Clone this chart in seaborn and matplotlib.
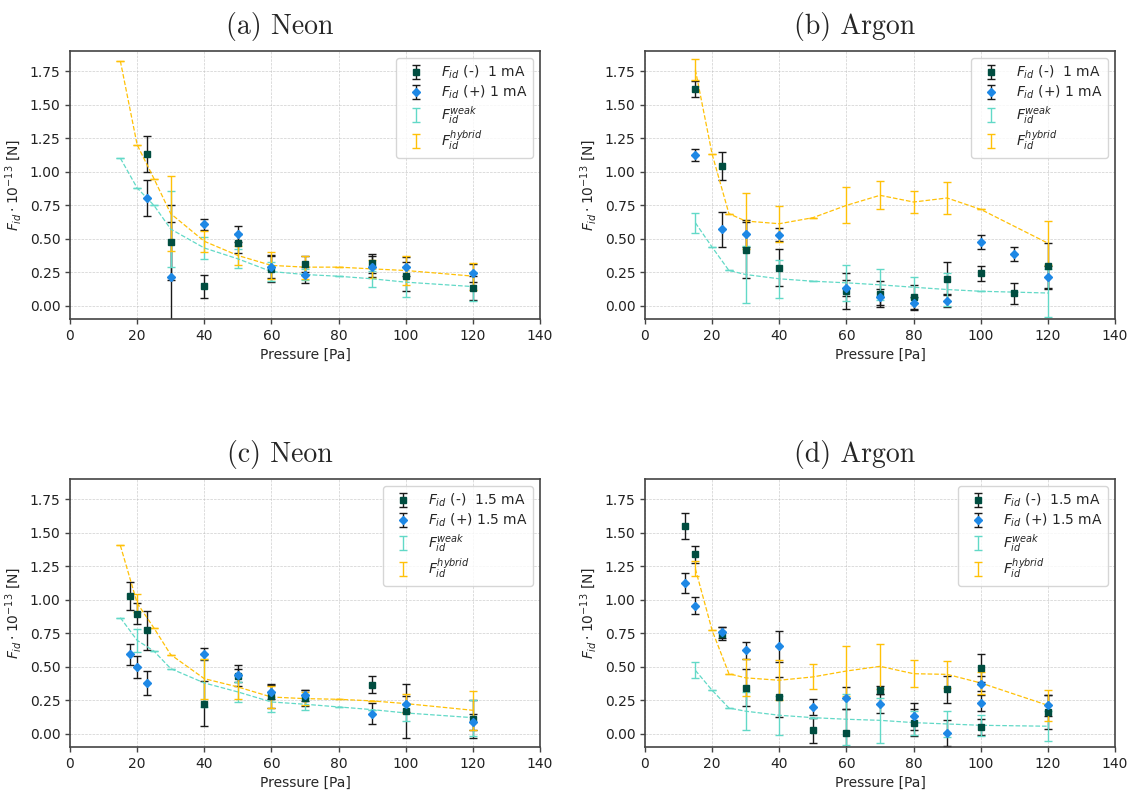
import matplotlib
matplotlib.use("Agg")
import matplotlib.pyplot as plt
import seaborn as sns
import numpy as np

# ---------------- data ----------------
titles = ["(a) Neon", "(b) Argon", "(c) Neon", "(d) Argon"]
currents = ["1 mA", "1 mA", "1.5 mA", "1.5 mA"]

# (a) Neon 1 mA
p_meas_a = [23, 30, 40, 50, 60, 70, 90, 100, 120]
fm_a = [1.13, 0.471, 0.145, 0.466, 0.274, 0.312, 0.317, 0.219, 0.132]
fm_err_a = [0.135, 0.28, 0.085, 0.07, 0.10, 0.06, 0.07, 0.11, 0.09]
fp_a = [0.80, 0.215, 0.606, 0.534, 0.287, 0.229, 0.29, 0.29, 0.244]
fp_err_a = [0.135, 0.41, 0.04, 0.06, 0.08, 0.06, 0.08, 0.07, 0.07]
p_mod_a = [15, 20, 25, 30, 40, 50, 60, 70, 80, 90, 100, 120]
weak_a = [1.10, 0.878, 0.748, 0.571, 0.43, 0.349, 0.254, 0.232, 0.219, 0.20, 0.175, 0.142]
weak_err_a = [0, 0, 0, 0.284, 0.08, 0.07, 0.07, 0.04, 0, 0.06, 0.11, 0.11]
hyb_a = [1.825, 1.20, 0.948, 0.686, 0.48, 0.374, 0.30, 0.287, 0.287, 0.274, 0.262, 0.22]
hyb_err_a = [0, 0, 0, 0.28, 0.08, 0.07, 0.10, 0.085, 0, 0.07, 0.11, 0.10]

# (b) Argon 1 mA
p_meas_b = [15, 23, 30, 40, 60, 70, 80, 90, 100, 110, 120]
fm_b = [1.613, 1.04, 0.416, 0.282, 0.107, 0.087, 0.067, 0.202, 0.242, 0.092, 0.294]
fm_err_b = [0.06, 0.105, 0.21, 0.137, 0.135, 0.10, 0.09, 0.12, 0.055, 0.08, 0.17]
fp_b = [1.122, 0.568, 0.536, 0.529, 0.13, 0.067, 0.017, 0.037, 0.474, 0.384, 0.212]
fp_err_b = [0.045, 0.13, 0.10, 0.05, 0.06, 0.06, 0.05, 0.05, 0.05, 0.05, 0.08]
p_mod_b = [15, 20, 25, 30, 40, 50, 60, 70, 80, 90, 100, 120]
weak_b = [0.618, 0.436, 0.262, 0.232, 0.20, 0.182, 0.17, 0.155, 0.137, 0.12, 0.107, 0.094]
weak_err_b = [0.075, 0, 0, 0.21, 0.14, 0, 0.135, 0.115, 0.08, 0.12, 0, 0.18]
hyb_b = [1.76, 1.13, 0.686, 0.631, 0.611, 0.656, 0.748, 0.823, 0.773, 0.803, 0.718, 0.466]
hyb_err_b = [0.08, 0, 0, 0.21, 0.135, 0, 0.135, 0.105, 0.083, 0.12, 0, 0.165]

# (c) Neon 1.5 mA
p_meas_c = [18, 20, 23, 40, 50, 60, 70, 90, 100, 120]
fm_c = [1.024, 0.895, 0.771, 0.224, 0.432, 0.278, 0.268, 0.365, 0.167, 0.109]
fm_err_c = [0.105, 0.08, 0.145, 0.165, 0.08, 0.09, 0.06, 0.065, 0.2, 0.14]
fp_c = [0.592, 0.497, 0.38, 0.597, 0.435, 0.311, 0.286, 0.149, 0.219, 0.087]
fp_err_c = [0.08, 0.085, 0.09, 0.045, 0.05, 0.05, 0.04, 0.077, 0.06, 0.06]
p_mod_c = [15, 20, 25, 30, 40, 50, 60, 70, 80, 90, 100, 120]
weak_c = [0.865, 0.696, 0.616, 0.485, 0.378, 0.311, 0.236, 0.219, 0.199, 0.179, 0.154, 0.119]
weak_err_c = [0, 0.085, 0, 0, 0.18, 0.075, 0.075, 0.045, 0, 0, 0.06, 0.135]
hyb_c = [1.404, 0.974, 0.788, 0.589, 0.41, 0.348, 0.273, 0.261, 0.256, 0.244, 0.224, 0.174]
hyb_err_c = [0, 0.07, 0, 0, 0.15, 0.09, 0.085, 0.05, 0, 0, 0.07, 0.145]

# (d) Argon 1.5 mA
p_meas_d = [12, 15, 23, 30, 40, 50, 60, 70, 80, 90, 100, 100, 120]
fm_d = [1.546, 1.337, 0.745, 0.343, 0.271, 0.025, 0.007, 0.328, 0.08, 0.33, 0.492, 0.05, 0.162]
fm_err_d = [0.097, 0.062, 0.05, 0.137, 0.15, 0.093, 0.18, 0.03, 0.1, 0.1, 0.105, 0.06, 0.125]
fp_d = [1.126, 0.955, 0.755, 0.621, 0.651, 0.199, 0.266, 0.224, 0.129, 0.007, 0.373, 0.231, 0.211]
fp_err_d = [0.075, 0.062, 0.04, 0.062, 0.114, 0.06, 0.08, 0.068, 0.1, 0.097, 0.055, 0.06, 0.08]
p_mod_d = [15, 20, 25, 30, 40, 50, 60, 70, 80, 90, 100, 120]
weak_d = [0.472, 0.323, 0.191, 0.167, 0.137, 0.119, 0.107, 0.099, 0.082, 0.072, 0.062, 0.055]
weak_err_d = [0.06, 0, 0, 0.14, 0.145, 0, 0.19, 0.17, 0.09, 0.1, 0.08, 0.11]
hyb_d = [1.23, 0.77, 0.447, 0.416, 0.398, 0.423, 0.467, 0.502, 0.447, 0.442, 0.378, 0.211]
hyb_err_d = [0.055, 0, 0, 0.138, 0.15, 0.093, 0.19, 0.17, 0.1, 0.1, 0.08, 0.115]

x_ticks = [0, 20, 40, 60, 80, 100, 120, 140]
y_ticks = [0.0, 0.25, 0.5, 0.75, 1.0, 1.25, 1.5, 1.75]

panels = [
    (p_meas_a, fm_a, fm_err_a, fp_a, fp_err_a, p_mod_a, weak_a, weak_err_a, hyb_a, hyb_err_a),
    (p_meas_b, fm_b, fm_err_b, fp_b, fp_err_b, p_mod_b, weak_b, weak_err_b, hyb_b, hyb_err_b),
    (p_meas_c, fm_c, fm_err_c, fp_c, fp_err_c, p_mod_c, weak_c, weak_err_c, hyb_c, hyb_err_c),
    (p_meas_d, fm_d, fm_err_d, fp_d, fp_err_d, p_mod_d, weak_d, weak_err_d, hyb_d, hyb_err_d),
]

# ---------------- style ----------------
sns.set_theme(style="ticks", rc={
    "axes.edgecolor": "#444444",
    "axes.linewidth": 1.2,
    "xtick.color": "#444444",
    "ytick.color": "#444444",
    "xtick.labelcolor": "#222222",
    "ytick.labelcolor": "#222222",
    "xtick.labelsize": 10,
    "ytick.labelsize": 10,
    "axes.labelsize": 10,
    "legend.fontsize": 10,
    "xtick.major.size": 3.5,
    "ytick.major.size": 3.5,
    "xtick.major.width": 1.0,
    "ytick.major.width": 1.0,
})
plt.rcParams["font.family"] = ["DejaVu Sans"]
plt.rcParams["mathtext.fontset"] = "dejavusans"

c_minus = "#004D40"
c_plus = "#1E88E5"
c_weak = "#62D9C7"
c_hyb = "#FFC107"
c_err = "#1a1a1a"

fig, axes = plt.subplots(2, 2, figsize=(11.33, 7.96), dpi=100)
fig.subplots_adjust(left=70 / 1133, right=1115 / 1133, bottom=1 - 747 / 796,
                    top=1 - 51 / 796, wspace=0.2234, hspace=0.597)

for ax, title, cur, pan in zip(axes.flat, titles, currents, panels):
    (pm, fm, fme, fp, fpe, pmod, wk, wke, hy, hye) = pan

    ebm = ax.errorbar(pm, fm, yerr=fme, fmt="s", color=c_minus, ecolor=c_err,
                      markersize=4.5, elinewidth=1.0, capsize=3, capthick=1.0,
                      label=r"$F_{id}$ (-)  " + cur)
    ebp = ax.errorbar(pm, fp, yerr=fpe, fmt="D", color=c_plus, ecolor=c_err,
                      markersize=4.0, elinewidth=1.0, capsize=3, capthick=1.0,
                      label=r"$F_{id}$ (+) " + cur)
    ebw = ax.errorbar(pmod, wk, yerr=wke, fmt="none", ecolor=c_weak,
                      elinewidth=1.0, capsize=3, capthick=1.0,
                      label=r"$F_{id}^{weak}$")
    ebh = ax.errorbar(pmod, hy, yerr=hye, fmt="none", ecolor=c_hyb,
                      elinewidth=1.0, capsize=3, capthick=1.0,
                      label=r"$F_{id}^{hybrid}$")
    sns.lineplot(x=pmod, y=wk, ax=ax, color=c_weak, linestyle="--", linewidth=0.9,
                 estimator=None, sort=False, legend=False, zorder=2.5)
    sns.lineplot(x=pmod, y=hy, ax=ax, color=c_hyb, linestyle="--", linewidth=0.9,
                 estimator=None, sort=False, legend=False, zorder=2.5)
    ebm[0].set_zorder(5)
    ebp[0].set_zorder(5.1)

    ax.set_xlim(0, 140)
    ax.set_ylim(-0.1, 1.9)
    ax.set_xticks(x_ticks)
    ax.set_yticks(y_ticks)
    ax.grid(True, linestyle="--", linewidth=0.5, color="#bbbbbb", alpha=0.7)
    ax.set_xlabel("Pressure [Pa]")
    ax.set_ylabel(r"$F_{id} \cdot 10^{-13}$ [N]")
    ax.set_title(title, fontfamily="cmr10", fontsize=20, x=0.447, pad=12)
    ax.legend(handles=[ebm, ebp, ebw, ebh], loc="upper right", framealpha=0.8,
              labelspacing=0.2)

fig.savefig("out.png", dpi=100)
